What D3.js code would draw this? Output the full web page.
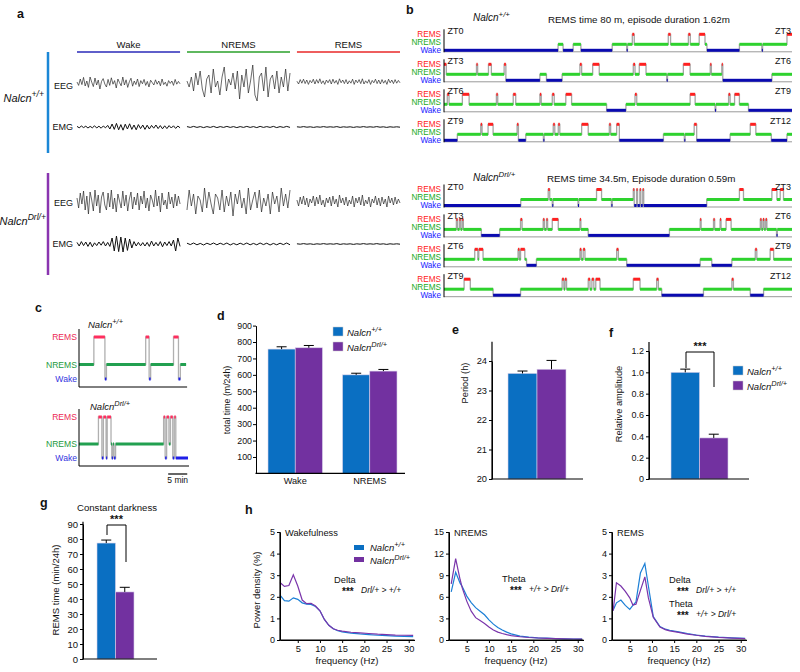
<!DOCTYPE html>
<html><head><meta charset="utf-8">
<script src="https://cdn.jsdelivr.net/npm/d3@7"></script>
<style>
body{margin:0;background:#fff}
text{font-family:"Liberation Sans",Arial,Helvetica,sans-serif;}
</style></head><body>
<script>
// ---------------- DATA ----------------
// panel a: traces (arbitrary units; EEG ~uV, EMG ~a.u.)
const aStates = ["Wake","NREMS","REMS"];
const eegWTWake = [5,-12,20,-8,28,-15,10,-22,30,4,-18,25,-10,15,-30,8,22,-5,-20,18,-12,26,-6,12,-25,20,2,-14,30,-10,16,-22,6,24,-16,10,-8,20,-18,12,-4,18,-12,8,-20,14,2,-10,16,-6,10,-14,20,-8,4,-16,12,-2,10,-12,18,-6,8,-4];
const eegWTNrem = [10,-20,30,-40,50,-10,60,-30,-70,20,40,-50,70,-20,10,-60,30,80,-40,20,-10,50,-30,60,-80,40,-20,70,-50,10,90,-60,-90,30,50,-40,80,-70,20,40,-30,60,-50,30,-20,70,-40,50];
const eegWTRem = [4,-10,12,-6,14,-8,10,-12,8,-4,14,-10,12,-6,16,-8,6,-12,10,-4,12,-10,14,-6,8,-12,16,-4,10,-8,12,-10,6,-6,14,-12,10,-4,12,-8,16,-10,6,-6,12,-12,8,-4,14,-8,10,-10,12,-6,8,-12,14,-4,10,-8,12,-6,8,-4];
const eegDrlWake = [20,-30,45,-10,55,-40,30,-60,50,10,-45,60,-20,35,-55,25,50,-15,-40,45,-25,60,-35,20,-50,40,5,-30,55,-20,35,-45,15,50,-35,25,-15,45,-40,30,-10,55,-30,20,-45,35,10,-25,60,-20,30,-50,45,-15,10,-35,50,-10,25,-30,40,-20,30,-10];
const eegDrlNrem = [-40,60,-20,40,-60,30,10,-50,70,-30,50,-10,-60,40,20,-40,60,-50,30,-20,50,-70,40,-10,60,-30,20,-60,70,-40,10,50,-30,60,-50,20,-20,40,-60,50,-10,30,-50,70,-20,40,-30,60];
const eegDrlRem = [10,-20,25,-10,30,-15,20,-25,15,-5,30,-20,25,-10,35,-15,10,-25,20,-5,25,-20,30,-10,15,-25,35,-5,20,-15,25,-20,10,-10,30,-25,20,-5,25,-15,35,-20,10,-10,25,-25,15,-5,30,-15,20,-20,25,-10,15,-25,30,-5,20,-15,25,-10,15,-5];
const emgWTWake = [3,-4,5,-3,4,-5,3,-4,6,-5,4,-6,5,-4,8,-10,15,-12,18,-14,12,-16,14,-10,16,-12,10,-14,12,-8,10,-12,9,-10,8,-6,10,-8,7,-9,6,-8,7,-5,6,-7,5,-4];
const emgWTNrem = [2,-2,3,-2,2,-3,2,-2,3,-3,2,-2,3,-2,2,-3,2,-2,3,-2,2,-3,3,-2,2,-2,3,-3,2,-2,3,-2];
const emgWTRem = [1,-1,2,-1,1,-2,1,-1,2,-1,1,-1,2,-2,1,-1,1,-2,1,-1,2,-1,1,-1,2,-1,1,-2,1,-1,1,-1];
const emgDrlWake = [8,-10,12,-8,10,-12,9,-14,6,-8,10,-6,12,-10,8,-12,30,-35,40,-38,35,-40,30,-32,25,-20,12,-10,8,-9,7,-10,8,-12,15,-10,8,-9,12,-14,10,-8,12,-10,20,-35,30,-12];
const emgDrlNrem = [4,-3,5,-4,3,-5,4,-3,5,-4,4,-3,5,-5,3,-4,4,-3,5,-4,3,-4,5,-3,4,-5,3,-4,4,-3,5,-4];
const emgDrlRem = [1,-1,2,-1,1,-2,1,-1,2,-1,1,-1,2,-2,1,-1,1,-2,1,-1,2,-1,1,-1,2,-1,1,-2,1,-1,1,-1];

// panel b: hypnogram transitions [minute, state] state 0=Wake 1=NREMS 2=REMS (3 h per row)
const hypWT1 = [[0,0],[59,1],[61.6,0],[66.8,1],[70.8,0],[87,1],[94.5,0],[94.9,1],[97.4,2],[98.4,1],[116,2],[117.2,1],[126.4,2],[127.4,1],[132,2],[135,1],[136,0],[152.8,1],[164.4,0],[164.8,1],[177.4,2]];
const hypWT2 = [[0,2],[1.2,1],[16.8,2],[17.4,1],[23,2],[24.5,1],[31.1,2],[32,0],[49.6,1],[53,0],[61.1,1],[70.3,2],[71.2,1],[76.9,2],[80.3,1],[97.9,2],[98.8,1],[101,2],[104.5,1],[115.2,0],[115.6,1],[123.8,2],[127.3,1],[137.7,2],[138.3,1],[143.7,2],[144.2,0],[169.6,1]];
const hypWT3 = [[0,1],[1.7,2],[2.6,1],[9.5,2],[13,1],[27.1,2],[27.8,1],[35.8,2],[37.1,1],[49.6,2],[50.3,1],[56,2],[57,1],[63,2],[66,1],[84.1,0],[94.1,1],[98.8,2],[99.7,1],[127.3,2],[129.9,1],[140.2,0],[140.6,1],[147.2,2],[148,1],[150.3,2],[152.8,1],[157.5,0]];
const hypWT4 = [[0,0],[6.9,1],[19,2],[19.7,1],[22.8,2],[25.4,1],[37.8,2],[38.5,0],[42.3,1],[51.4,0],[51.8,1],[56.5,2],[57.3,1],[59.1,2],[59.9,1],[71.2,2],[74.6,1],[85.5,2],[86.2,1],[89.3,2],[90.7,0],[113.5,1],[124.3,0],[124.7,1],[129.4,2],[130.7,0],[148,1],[158.4,2],[161.3,1],[169.3,0],[177.4,1]];
const hypDrl1 = [[0,0],[39.7,1],[53.9,2],[54.7,1],[56,0],[56.4,1],[69.3,0],[69.7,1],[78.9,2],[81.5,1],[86.6,0],[87,1],[97.9,2],[98.4,0],[99.6,2],[100.1,0],[101.3,2],[101.8,0],[102.8,2],[103.3,0],[135.9,1],[152.8,2],[154.9,1],[169.6,2],[172.2,1],[173.9,2],[175.6,1]];
const hypDrl2 = [[0,1],[6.4,2],[7,1],[8,2],[8.6,1],[9.4,2],[10,1],[19.3,0],[28.8,1],[39.6,2],[40.4,1],[51.3,2],[51.9,1],[53,2],[53.6,1],[56,2],[59.1,1],[70.3,2],[70.8,1],[74.6,0],[116.6,1],[132.5,2],[133,1],[139.4,2],[140,1],[142.8,2],[143.3,1],[145.9,2],[148.5,1],[163.6,2],[164.2,1],[165,2],[165.6,1],[166.4,2],[167,1],[172,0],[172.4,1]];
const hypDrl3 = [[0,1],[15.9,2],[17.5,1],[18,2],[20.2,1],[38.3,2],[39,1],[39.6,2],[41.8,1],[42.7,0],[47.8,1],[70.3,2],[71,1],[72,2],[72.9,1],[89.3,2],[90.2,1],[94.5,0],[132.5,1],[138.5,0],[148.9,1],[161,2],[161.8,1],[168.7,2],[170.5,1]];
const hypDrl4 = [[0,1],[10.4,2],[13.6,1],[25.4,0],[39.6,1],[61.1,2],[62,1],[62.6,2],[63.4,1],[74.6,2],[75.5,1],[76.5,2],[77.5,1],[78.5,2],[80.7,1],[97.9,2],[101.4,1],[110,2],[110.9,1],[112.6,0],[134.2,1],[148.9,2],[149.7,1],[158.4,0],[165.3,1]];
const hypRowLabels = [["ZT0","ZT3"],["ZT3","ZT6"],["ZT6","ZT9"],["ZT9","ZT12"]];

// panel c: zoomed hypnograms (minutes)
const cWT = [[0,1],[3.9,2],[6.8,0],[7.2,1],[17.5,2],[18.4,0],[18.8,1],[24.8,2],[26.1,0],[26.6,1]];
const cWTEnd = 28.1;
const cDrl = [[0,1],[5.1,2],[6.0,0],[6.4,2],[7.1,0],[7.4,2],[8.4,1],[8.6,0],[8.9,1],[9.2,0],[9.6,1],[22.2,2],[22.6,0],[23.0,2],[23.6,1],[24.0,2],[24.6,0],[25.0,2],[25.4,0]];
const cDrlEnd = 28.6;

// panel d: total time (m/24h)
const dCats = ["Wake","NREMS"];
const dWT = [757, 600], dWTErr = [14, 10];
const dDrl = [765, 623], dDrlErr = [14, 10];
const dTicks = [100,200,300,400,500,600,700,800,900];
// panel e: period (h)
const eWT = 23.58, eWTErr = 0.08, eDrl = 23.72, eDrlErr = 0.3;
const eTicks = [20,21,22,23,24];
// panel f: relative amplitude
const fWT = 1.0, fWTErr = 0.03, fDrl = 0.385, fDrlErr = 0.035;
const fTicks = [0,0.2,0.4,0.6,0.8,1.0,1.2];
// panel g: REMS time constant darkness
const gWT = 77.3, gWTErr = 2, gDrl = 44.7, gDrlErr = 3.1;
const gTicks = [0,10,20,30,40,50,60,70,80,90];
// panel h: power density (%)
const hFreqWake = [1,2,3,4,5,6,7,8,9,10,11,12,13,14,15,17,19,21,23,25,27,29,31];
const hWakeWT  = [2.08,1.82,1.8,1.95,1.88,1.72,1.66,1.65,1.55,1.35,0.95,0.68,0.52,0.43,0.38,0.32,0.28,0.25,0.22,0.2,0.18,0.17,0.16];
const hWakeDrl = [2.66,2.48,2.52,3.02,2.5,1.85,1.68,1.7,1.57,1.35,0.95,0.68,0.52,0.45,0.41,0.36,0.33,0.3,0.27,0.25,0.23,0.22,0.21];
const hFreqNrem = [1.5,2.5,3.5,4,5,6,7,8,9,10,11,12,13,14,15,17,19,21,23,25,27,29,31];
const hNremWT  = [6.7,9.4,7.9,7.4,6.1,5.2,4.5,4.0,3.5,2.8,2.2,1.75,1.4,1.1,0.85,0.55,0.4,0.3,0.25,0.2,0.17,0.14,0.12];
const hNremDrl = [7.8,11.3,8.4,7.2,5.4,4.0,3.1,2.7,2.3,1.8,1.4,1.1,0.9,0.75,0.62,0.45,0.35,0.28,0.23,0.19,0.16,0.14,0.12];
const hFreqRem = [1.25,2,3,4,5,5.7,6.4,7.4,8.4,9.2,10.3,11.8,13,14,16,18,20,22,25,28,31];
const hRemWT  = [1.38,1.72,1.85,1.6,1.42,1.6,1.77,3.1,3.54,2.5,1.08,0.62,0.5,0.45,0.38,0.3,0.23,0.18,0.13,0.1,0.08];
const hRemDrl = [1.35,2.65,2.5,2.25,1.95,1.62,1.66,2.3,2.92,1.95,1.05,0.6,0.48,0.42,0.35,0.27,0.22,0.17,0.12,0.09,0.06];
const hXTicks = [5,10,15,20,25,30];

// ---------------- STYLE ----------------
const BLUE = "#0a6fc2", PURPLE = "#7231a0";
const FONT = '"Liberation Sans",Arial,Helvetica,sans-serif';
const fmtInt = d3.format("d");

const svg = d3.select("body").append("svg").attr("width",800).attr("height",672);

function txt(x,y,s,o={}) {
  const t = svg.append("text").attr("x",x).attr("y",y).text(s)
    .attr("font-size", o.size||9).attr("fill", o.fill||"#111")
    .attr("text-anchor", o.anchor||"start");
  if (o.bold) t.attr("font-weight","bold");
  if (o.italic) t.attr("font-style","italic");
  if (o.rotate) t.attr("transform",`rotate(-90,${x},${y})`);
  return t;
}
function geno(x,y,sup,size,anchor) {
  const t = svg.append("text").attr("x",x).attr("y",y).attr("font-size",size)
    .attr("text-anchor",anchor||"start").attr("fill","#111").attr("font-style","italic");
  t.append("tspan").text("Nalcn");
  t.append("tspan").attr("font-size",size*0.78).attr("dy",-size*0.42).text(sup);
  return t;
}
function line(x1,y1,x2,y2,stroke,w) {
  return svg.append("line").attr("x1",x1).attr("y1",y1).attr("x2",x2).attr("y2",y2)
    .attr("stroke",stroke||"#000").attr("stroke-width",w||1);
}
function styleAxis(g, size) {
  g.selectAll("text").attr("font-family",FONT).attr("font-size",size||9).attr("fill","#111");
  g.selectAll("line,path").attr("stroke","#000");
}

// panel letters
[["a",17,18],["b",406,14],["c",35,312],["d",217,320],["e",452,334],["f",609,337],["g",40,507],["h",245,514]]
  .forEach(p=>txt(p[1],p[2],p[0],{size:12.5,bold:true}));

// ---------------- PANEL A ----------------
const aBand = d3.scaleBand().domain(aStates).range([77,400]).paddingInner(0.063);
const aHeadColor = {Wake:"#2a2ab8", NREMS:"#2aa02a", REMS:"#e82828"};
aStates.forEach(s=>{
  line(aBand(s),52,aBand(s)+aBand.bandwidth(),52,aHeadColor[s],1.5);
  txt(aBand(s)+aBand.bandwidth()/2,48,s,{anchor:"middle",size:9.5});
});
line(48,52,48,153,"#1b87d6",2.5);
line(48,173,48,275,"#8a35b0",2.5);
geno(44,102,"+/+",11,"end");
geno(46,225,"Drl/+",11,"end");
[["EEG",86],["EMG",127],["EEG",203],["EMG",244]].forEach(l=>txt(73,l[1]+3.2,l[0],{anchor:"end",size:9}));

function trace(vals,state,center,kind) {
  const x = d3.scaleLinear().domain([0,vals.length-1]).range([aBand(state),aBand(state)+aBand.bandwidth()]);
  const y = d3.scaleLinear().domain([-100,100]).range([center+20,center-20]);
  svg.append("path").attr("d",d3.line().x((d,i)=>x(i)).y(d=>y(d))(vals))
    .attr("fill","none").attr("stroke",kind==="emg"?"#111":"#2a2a2a")
    .attr("stroke-width",kind==="emg"?1.0:0.7).attr("stroke-linejoin","round");
}
trace(eegWTWake,"Wake",83,"eeg"); trace(eegWTNrem,"NREMS",83,"eeg"); trace(eegWTRem,"REMS",82,"eeg");
trace(emgWTWake,"Wake",127,"emg"); trace(emgWTNrem,"NREMS",127,"emg"); trace(emgWTRem,"REMS",127,"emg");
trace(eegDrlWake,"Wake",202,"eeg"); trace(eegDrlNrem,"NREMS",202,"eeg"); trace(eegDrlRem,"REMS",202,"eeg");
trace(emgDrlWake,"Wake",244,"emg"); trace(emgDrlNrem,"NREMS",244,"emg"); trace(emgDrlRem,"REMS",244,"emg");

// ---------------- HYPNOGRAM HELPER ----------------
function hypno(trans,tEnd,xs,lv,colors,barH,grey) {
  const yS = d3.scaleOrdinal().domain([0,1,2]).range([lv.wake,lv.nrem,lv.rem]);
  const pts = trans.concat([[tEnd,trans[trans.length-1][1]]]);
  const ln = d3.line().x(d=>xs(d[0])).y(d=>yS(d[1])).curve(d3.curveStepAfter);
  svg.append("path").attr("d",ln(pts)).attr("fill","none").attr("stroke",grey||"#a5a5a5").attr("stroke-width",1.3);
  trans.forEach((t,i)=>{
    const e = i<trans.length-1 ? trans[i+1][0] : tEnd;
    svg.append("rect").attr("x",xs(t[0])).attr("width",Math.max(1,xs(e)-xs(t[0])))
      .attr("y",yS(t[1])-barH/2).attr("height",barH).attr("fill",colors[t[1]]);
  });
}

// ---------------- PANEL B ----------------
const bX = d3.scaleLinear().domain([0,180]).range([444,792]);
const bColors = ["#0a0ab0","#2ed22e","#ff2020"];
geno(473,21,"+/+",10);
txt(548,23,"REMS time 80 m, episode duration 1.62m",{size:9.8});
geno(473,181,"Drl/+",10);
txt(547,182,"REMS time 34.5m, Episode duration 0.59m",{size:9.8});
function bRow(trans,yr,labels) {
  line(444,yr+17.5,792,yr+17.5,"#999",1);
  hypno(trans,180,bX,{rem:yr,nrem:yr+10,wake:yr+16},bColors,3);
  line(444,yr-5,444,yr+18,"#000",1);
  txt(441,yr+2.6,"REMS",{anchor:"end",size:8.2,fill:"#ff1a1a"});
  txt(441,yr+10.9,"NREMS",{anchor:"end",size:8.2,fill:"#1aaa1a"});
  txt(441,yr+18.6,"Wake",{anchor:"end",size:8.2,fill:"#1a1aff"});
  txt(447.5,yr,labels[0],{size:9});
  txt(791,yr,labels[1],{size:9,anchor:"end"});
}
[hypWT1,hypWT2,hypWT3,hypWT4].forEach((r,i)=>bRow(r,34.3+i*30,hypRowLabels[i]));
[hypDrl1,hypDrl2,hypDrl3,hypDrl4].forEach((r,i)=>bRow(r,189.5+i*29.9,hypRowLabels[i]));

// ---------------- PANEL C ----------------
const cX = d3.scaleLinear().domain([0,28.6]).range([79,188]);
const cColors = ["#1e1ee8","#22a050","#ff2e5e"];
function cPanel(trans,tEnd,top,lv,bottom) {
  hypno(trans,tEnd,cX,lv,cColors,3,"#b0b0b0");
  line(79,top,79,bottom,"#000",1);
  line(79,bottom,cX(tEnd)+1,bottom,"#000",1);
  txt(77,lv.rem+3,"REMS",{anchor:"end",size:8.6,fill:"#ec2a55"});
  txt(77,lv.nrem+3,"NREMS",{anchor:"end",size:8.6,fill:"#1e9a3c"});
  txt(77,lv.wake+3,"Wake",{anchor:"end",size:8.6,fill:"#3434e0"});
}
geno(88,328,"+/+",9.5);
cPanel(cWT,cWTEnd,329,{rem:337,nrem:364.5,wake:379},387);
geno(90,410,"Drl/+",9.5);
cPanel(cDrl,cDrlEnd,409,{rem:417,nrem:444,wake:458},466);
line(cX(23.4),474,cX(28.4),474,"#000",1.2);
txt((cX(23.4)+cX(28.4))/2,483,"5 min",{anchor:"middle",size:8.5});

// ---------------- BAR HELPERS ----------------
function bar(x,w,y0,y1,color){
  svg.append("rect").attr("x",x).attr("width",w).attr("y",y1).attr("height",y0-y1)
    .attr("fill",color).attr("stroke","#d8d0ea").attr("stroke-width",0.6);
}
function errbar(cx,yTop,yErr){
  line(cx,yTop,cx,yErr,"#000",1); line(cx-5,yErr,cx+5,yErr,"#000",1);
}
function legendBox(x,y,color,sup,size){
  svg.append("rect").attr("x",x).attr("y",y).attr("width",10).attr("height",9).attr("fill",color).attr("stroke","#ccc").attr("stroke-width",0.5);
  geno(x+14,y+8.5,sup,size||9.5);
}

// ---------------- PANEL D ----------------
const dY = d3.scaleLinear().domain([0,900]).range([473.4,325.6]);
const dX = d3.scaleBand().domain(dCats).range([268,397]).paddingInner(0.27);
const dSub = d3.scaleBand().domain(["wt","drl"]).range([0,dX.bandwidth()]);
dCats.forEach((c,i)=>{
  const xw = dX(c)+dSub("wt"), xd = dX(c)+dSub("drl"), bw = dSub.bandwidth();
  bar(xw,bw,dY(0),dY(dWT[i]),BLUE); bar(xd,bw,dY(0),dY(dDrl[i]),PURPLE);
  errbar(xw+bw/2,dY(dWT[i]),dY(dWT[i]+dWTErr[i]));
  errbar(xd+bw/2,dY(dDrl[i]),dY(dDrl[i]+dDrlErr[i]));
  txt(dX(c)+dX.bandwidth()/2,484,c,{anchor:"middle",size:9.2});
});
styleAxis(svg.append("g").attr("transform","translate(256,0)")
  .call(d3.axisLeft(dY).tickValues(dTicks).tickFormat(fmtInt).tickSize(3).tickSizeOuter(0).tickPadding(1)),8.8);
line(255.5,dY(0),405,dY(0),"#000",1.2);
txt(230,400,"total time (m/24h)",{size:8.8,anchor:"middle"}).attr("transform","rotate(-90,230,400)");
legendBox(333,327,BLUE,"+/+");
legendBox(333,342,PURPLE,"Drl/+");

// ---------------- PANEL E ----------------
const eY = d3.scaleLinear().domain([20,24]).range([479,361]);
const eX = d3.scaleBand().domain(["wt","drl"]).range([508,566]);
bar(eX("wt"),eX.bandwidth(),eY(20),eY(eWT),BLUE);
bar(eX("drl"),eX.bandwidth(),eY(20),eY(eDrl),PURPLE);
errbar(eX("wt")+eX.bandwidth()/2,eY(eWT),eY(eWT+eWTErr));
errbar(eX("drl")+eX.bandwidth()/2,eY(eDrl),eY(eDrl+eDrlErr));
styleAxis(svg.append("g").attr("transform","translate(492,0)")
  .call(d3.axisLeft(eY).tickValues(eTicks).tickFormat(fmtInt).tickSize(3).tickSizeOuter(0).tickPadding(2)),9.3);
line(492,eY(24.65),492,eY(20),"#000",1.2);
line(491.5,eY(20),583,eY(20),"#000",1.2);
txt(468,383,"Period (h)",{size:9.3,anchor:"middle"}).attr("transform","rotate(-90,468,383)");

// ---------------- PANEL F ----------------
const fY = d3.scaleLinear().domain([0,1.2]).range([479,351]);
const fX = d3.scaleBand().domain(["wt","drl"]).range([671,728]);
bar(fX("wt"),fX.bandwidth(),fY(0),fY(fWT),BLUE);
bar(fX("drl"),fX.bandwidth(),fY(0),fY(fDrl),PURPLE);
errbar(fX("wt")+fX.bandwidth()/2,fY(fWT),fY(fWT+fWTErr));
errbar(fX("drl")+fX.bandwidth()/2,fY(fDrl),fY(fDrl+fDrlErr));
styleAxis(svg.append("g").attr("transform","translate(649,0)")
  .call(d3.axisLeft(fY).tickValues(fTicks).tickFormat(d=>d===0?"0":d3.format(".1f")(d)).tickSize(3).tickSizeOuter(0).tickPadding(2)),9);
line(649,fY(1.285),649,fY(0),"#000",1.2);
line(648.5,fY(0),749,fY(0),"#000",1.2);
txt(622,404,"Relative amplitude",{size:9.3,anchor:"middle"}).attr("transform","rotate(-90,622,404)");
svg.append("path").attr("d",`M686,${fY(1.04)}V352H714V387`).attr("fill","none").attr("stroke","#000").attr("stroke-width",1);
txt(700,350,"***",{size:11,anchor:"middle",bold:true});
legendBox(733,366,BLUE,"+/+");
legendBox(733,381,PURPLE,"Drl/+");

// ---------------- PANEL G ----------------
const gY = d3.scaleLinear().domain([0,90]).range([659,524]);
const gX = d3.scaleBand().domain(["wt","drl"]).range([97,134]);
bar(gX("wt"),gX.bandwidth(),gY(0),gY(gWT),BLUE);
bar(gX("drl"),gX.bandwidth(),gY(0),gY(gDrl),PURPLE);
errbar(gX("wt")+gX.bandwidth()/2,gY(gWT),gY(gWT+gWTErr));
errbar(gX("drl")+gX.bandwidth()/2,gY(gDrl),gY(gDrl+gDrlErr));
styleAxis(svg.append("g").attr("transform","translate(83,0)")
  .call(d3.axisLeft(gY).tickValues(gTicks).tickFormat(fmtInt).tickSize(3).tickSizeOuter(0).tickPadding(2)),9.5);
line(83,gY(91.5),83,gY(0),"#000",1.2);
line(82.5,gY(0),157,gY(0),"#000",1.2);
txt(59,590,"REMS time (min/24h)",{size:9.5,anchor:"middle"}).attr("transform","rotate(-90,59,590)");
txt(117,511,"Constant darkness",{size:9.6,anchor:"middle"});
svg.append("path").attr("d",`M107,535V525H126V562`).attr("fill","none").attr("stroke","#000").attr("stroke-width",1);
txt(116.5,523,"***",{size:11,anchor:"middle",bold:true});

// ---------------- PANEL H ----------------
const hPanels = [
  {title:"Wakefulness", x0:280, ymax:5, ticks:[0,1,2,3,4,5], f:hFreqWake, wt:hWakeWT, drl:hWakeDrl},
  {title:"NREMS", x0:449, ymax:15, ticks:[0,3,6,9,12,15], f:hFreqNrem, wt:hNremWT, drl:hNremDrl},
  {title:"REMS", x0:612, ymax:5, ticks:[0,1,2,3,4,5], f:hFreqRem, wt:hRemWT, drl:hRemDrl}
];
hPanels.forEach(p=>{
  const x = d3.scaleLinear().domain([1,31.3]).range([p.x0,p.x0+134.5]);
  const y = d3.scaleLinear().domain([0,p.ymax]).range([640,532]);
  const ln = d3.line().x((d,i)=>x(p.f[i])).y(d=>y(d));
  svg.append("path").attr("d",ln(p.wt)).attr("fill","none").attr("stroke","#1b7fd6").attr("stroke-width",1.2);
  svg.append("path").attr("d",ln(p.drl)).attr("fill","none").attr("stroke","#7a35ab").attr("stroke-width",1.2);
  styleAxis(svg.append("g").attr("transform",`translate(${p.x0},0)`)
    .call(d3.axisLeft(y).tickValues(p.ticks).tickFormat(fmtInt).tickSize(3).tickSizeOuter(0).tickPadding(2)),9);
  styleAxis(svg.append("g").attr("transform","translate(0,640)")
    .call(d3.axisBottom(x).tickValues(hXTicks).tickFormat(fmtInt).tickSize(3).tickSizeOuter(0).tickPadding(2)),9.3);
  line(p.x0,532,p.x0,640,"#000",1.2);
  line(p.x0-0.5,640,p.x0+134.5,640,"#000",1.2);
  txt(p.x0+5,536,p.title,{size:9.3});
  txt(p.x0+67,664,"frequency (Hz)",{size:9.6,anchor:"middle"});
});
txt(260,590,"Power density (%)",{size:9.5,anchor:"middle"}).attr("transform","rotate(-90,260,590)");
// h legend
svg.append("rect").attr("x",354).attr("y",545).attr("width",10).attr("height",5).attr("fill",BLUE);
svg.append("rect").attr("x",354).attr("y",557).attr("width",10).attr("height",5).attr("fill",PURPLE);
geno(370,551,"+/+",9.5);
geno(370,564,"Drl/+",9.5);
// h annotations
function stat(x,y,label,cmp){
  txt(x,y-1.5,label,{size:9.3});
  txt(x+8,y+10.5,"***",{size:10,bold:true});
  txt(x+27,y+8.5,cmp,{size:8.5,italic:true});
}
stat(334,584,"Delta","Drl/+ > +/+");
stat(502,583,"Theta","+/+ > Drl/+");
stat(669,584,"Delta","Drl/+ > +/+");
stat(669,608,"Theta","+/+ > Drl/+");
</script>
</body></html>
